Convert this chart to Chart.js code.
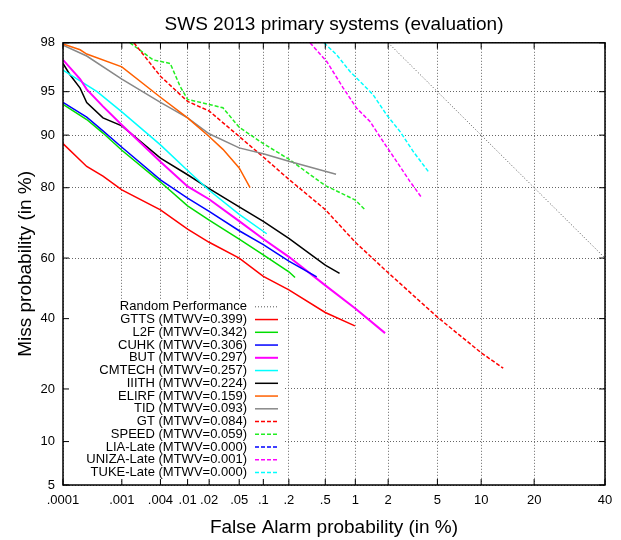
<!DOCTYPE html>
<html>
<head>
    <title>SWS 2013 DET</title>
    <script src="https://cdn.jsdelivr.net/npm/chart.js"></script>
    <style>
        body { margin: 0; background: #fff; }
        #wrap { width: 621px; height: 540px; }
    </style>
</head>
<body>
<div id="wrap"><canvas id="detChart"></canvas></div>
<script>
// axis ticks (percent)
const xTickVals = [0.0001, 0.001, 0.004, 0.01, 0.02, 0.05, 0.1, 0.2, 0.5, 1, 2, 5, 10, 20, 40];
const xTickLabels = ['.0001', '.001', '.004', '.01', '.02', '.05', '.1', '.2', '.5', '1', '2', '5', '10', '20', '40'];
const yTickVals = [5, 10, 20, 40, 60, 80, 90, 95, 98];
const yTickLabels = ['5', '10', '20', '40', '60', '80', '90', '95', '98'];

// false alarm % / miss % per system
const randomFa = [2, 40];
const randomMiss = [98, 60];
const gttsFa = [0.0001, 0.00026, 0.00049, 0.001, 0.004, 0.01, 0.02, 0.05, 0.1, 0.2, 0.5, 0.99];
const gttsMiss = [88.7, 84.6, 82.6, 79.5, 74.4, 69, 65, 60, 54, 49.5, 42, 37.7];
const l2fFa = [0.0001, 0.00026, 0.00049, 0.001, 0.004, 0.01, 0.02, 0.05, 0.1, 0.2, 0.235];
const l2fMiss = [93.8, 92.1, 90.3, 87.6, 81.3, 75.5, 71.6, 66, 61, 55.5, 53.6];
const cuhkFa = [0.0001, 0.00026, 0.00049, 0.001, 0.004, 0.01, 0.02, 0.05, 0.1, 0.2, 0.406];
const cuhkMiss = [94.0, 92.4, 90.6, 88.1, 81.8, 77.5, 74.0, 68.5, 64.3, 59, 53.8];
const butFa = [0.0001, 0.0002, 0.00026, 0.00049, 0.001, 0.004, 0.01, 0.02, 0.05, 0.1, 0.2, 0.5, 1, 1.88];
const butMiss = [97.2, 96.0, 95.2, 93.6, 91.4, 85.5, 80.3, 77.2, 71.3, 66, 60.4, 51, 43.3, 35.4];
const cmtechFa = [0.0001, 0.00039, 0.001, 0.004, 0.01, 0.02, 0.05, 0.11];
const cmtechMiss = [96.6, 95.0, 93.0, 88.5, 83.8, 79.4, 73.2, 67.6];
const iiithFa = [0.0001, 0.000133, 0.0002, 0.00026, 0.00049, 0.001, 0.004, 0.01, 0.02, 0.05, 0.1, 0.2, 0.5, 0.70];
const iiithMiss = [97.0, 96.3, 95.3, 94.0, 92.3, 91.3, 86.2, 82.9, 79.8, 75.2, 71.2, 66.2, 57.7, 55.0];
const elirfFa = [0.0001, 0.0002, 0.00026, 0.001, 0.004, 0.01, 0.02, 0.0307, 0.05, 0.0686];
const elirfMiss = [97.95, 97.7, 97.5, 96.8, 94.5, 92.3, 89.8, 87.75, 84.3, 80.0];
const tidFa = [0.0001, 0.00026, 0.001, 0.004, 0.01, 0.02, 0.05, 0.1, 0.2, 0.645];
const tidMiss = [97.9, 97.4, 96.0, 94.0, 92.3, 90.2, 88.0, 87.0, 85.6, 83.0];
const gtFa = [0.00156, 0.004, 0.01, 0.02, 0.05, 0.1, 0.2, 0.5, 1, 2, 5, 10, 13.6];
const gtMiss = [98, 96.2, 94.1, 93.1, 89.8, 86.4, 81.9, 74.5, 65, 55.2, 40.5, 29.5, 25.2];
const speedFa = [0.00135, 0.0031, 0.0056, 0.0078, 0.01, 0.02, 0.0307, 0.05, 0.1, 0.2, 0.5, 1, 1.24];
const speedMiss = [98, 97.2, 97.0, 95.45, 94.3, 93.8, 93.45, 91.1, 88.7, 86.0, 80.5, 77.0, 74.4];
const liaFa = [];
const liaMiss = [];
const unizaFa = [0.344, 0.518, 0.763, 1.03, 1.375, 1.81, 2.37, 3.06, 3.79];
const unizaMiss = [98, 97.11, 95.3, 93.41, 91.85, 89.0, 85.55, 81.4, 77.6];
const tukeFa = [0.485, 0.655, 0.888, 1.11, 1.47, 1.94, 2.53, 3.25, 4.27];
const tukeMiss = [98, 97.46, 96.51, 95.82, 94.72, 92.66, 90.51, 87.37, 83.57];

// inverse normal cdf (Acklam)
function probit(p) {
    const a = [-3.969683028665376e+01, 2.209460984245205e+02, -2.759285104469687e+02, 1.383577518672690e+02, -3.066479806614716e+01, 2.506628277459239e+00];
    const b = [-5.447609879822406e+01, 1.615858368580409e+02, -1.556989798598866e+02, 6.680131188771972e+01, -1.328068155288572e+01];
    const c = [-7.784894002430293e-03, -3.223964580411365e-01, -2.400758277161838e+00, -2.549732539343734e+00, 4.374664141464968e+00, 2.938163982698783e+00];
    const d = [7.784695709041462e-03, 3.224671290700398e-01, 2.445134137142996e+00, 3.754408661907416e+00];
    const plow = 0.02425;
    let q, r;
    if (p < plow) {
        q = Math.sqrt(-2 * Math.log(p));
        return (((((c[0]*q+c[1])*q+c[2])*q+c[3])*q+c[4])*q+c[5]) / ((((d[0]*q+d[1])*q+d[2])*q+d[3])*q+1);
    }
    if (p > 1 - plow) {
        q = Math.sqrt(-2 * Math.log(1 - p));
        return -(((((c[0]*q+c[1])*q+c[2])*q+c[3])*q+c[4])*q+c[5]) / ((((d[0]*q+d[1])*q+d[2])*q+d[3])*q+1);
    }
    q = p - 0.5; r = q * q;
    return (((((a[0]*r+a[1])*r+a[2])*r+a[3])*r+a[4])*r+a[5])*q / (((((b[0]*r+b[1])*r+b[2])*r+b[3])*r+b[4])*r+1);
}

function pts(fa, miss) {
    return fa.map((f, i) => ({ x: probit(f / 100), y: probit(miss[i] / 100) }));
}

function series(label, fa, miss, color, dash, width) {
    return {
        label: label,
        data: pts(fa, miss),
        borderColor: color,
        borderDash: dash,
        borderWidth: width,
        pointRadius: 0,
        fill: false,
        tension: 0
    };
}

const FONT = "'Liberation Sans', Arial, Helvetica, sans-serif";
Chart.defaults.font.family = FONT;
Chart.defaults.font.size = 13;
Chart.defaults.color = '#000';

const DASH = [4, 2];

// inward ticks on all four sides + frame
const framePlugin = {
    id: 'frame',
    beforeDatasetsDraw(chart) {
        // opaque key box (hides grid under the key)
        const { ctx, chartArea: a } = chart;
        ctx.save();
        ctx.fillStyle = '#fff';
        ctx.fillRect(a.left + 1, a.top + 257, 219, a.bottom - a.top - 263);
        ctx.restore();
    },
    afterDatasetsDraw(chart) {
        const { ctx, chartArea: a, scales } = chart;
        ctx.save();
        ctx.strokeStyle = '#000';
        ctx.lineWidth = 1;
        ctx.setLineDash([]);
        ctx.beginPath();
        scales.x.ticks.forEach(t => {
            const px = scales.x.getPixelForValue(t.value);
            ctx.moveTo(px, a.bottom); ctx.lineTo(px, a.bottom - 6);
            ctx.moveTo(px, a.top); ctx.lineTo(px, a.top + 6);
        });
        scales.y.ticks.forEach(t => {
            const py = scales.y.getPixelForValue(t.value);
            ctx.moveTo(a.left, py); ctx.lineTo(a.left + 6, py);
            ctx.moveTo(a.right, py); ctx.lineTo(a.right - 6, py);
        });
        ctx.stroke();
        ctx.lineWidth = 1.5;
        ctx.strokeRect(a.left, a.top, a.right - a.left, a.bottom - a.top);
        ctx.restore();
    }
};

// gnuplot style key: text right aligned, sample line after it
const keyPlugin = {
    id: 'detKey',
    afterDraw(chart) {
        const { ctx, chartArea: a } = chart;
        ctx.save();
        ctx.font = '13px ' + FONT;
        ctx.textAlign = 'right';
        ctx.textBaseline = 'middle';
        ctx.fillStyle = '#000';
        chart.data.datasets.forEach((ds, i) => {
            const y = a.top + 264 + i * 12.75;
            ctx.fillText(ds.label, a.left + 184, y);
            ctx.strokeStyle = ds.borderColor;
            ctx.lineWidth = ds.borderWidth;
            ctx.setLineDash(ds.borderDash || []);
            ctx.beginPath();
            ctx.moveTo(a.left + 192, y);
            ctx.lineTo(a.left + 215, y);
            ctx.stroke();
        });
        ctx.restore();
    }
};

const gridOpts = {
    color: '#666',
    lineWidth: 1,
    drawTicks: false
};
const borderOpts = { display: false, dash: [1, 2] };

new Chart(document.getElementById('detChart'), {
    type: 'line',
    data: {
        datasets: [
            series('Random Performance', randomFa, randomMiss, '#555555', [1, 2], 1),
            series('GTTS (MTWV=0.399)', gttsFa, gttsMiss, '#ff0000', [], 1.5),
            series('L2F (MTWV=0.342)', l2fFa, l2fMiss, '#00dd00', [], 1.5),
            series('CUHK (MTWV=0.306)', cuhkFa, cuhkMiss, '#0000ff', [], 1.5),
            series('BUT (MTWV=0.297)', butFa, butMiss, '#ff00ff', [], 2),
            series('CMTECH (MTWV=0.257)', cmtechFa, cmtechMiss, '#00ffff', [], 1.5),
            series('IIITH (MTWV=0.224)', iiithFa, iiithMiss, '#000000', [], 1.5),
            series('ELIRF (MTWV=0.159)', elirfFa, elirfMiss, '#ff6000', [], 1.5),
            series('TID (MTWV=0.093)', tidFa, tidMiss, '#888888', [], 1.5),
            series('GT (MTWV=0.084)', gtFa, gtMiss, '#ff0000', DASH, 1.5),
            series('SPEED (MTWV=0.059)', speedFa, speedMiss, '#22ee22', DASH, 1.5),
            series('LIA-Late (MTWV=0.000)', liaFa, liaMiss, '#0000ff', DASH, 1.5),
            series('UNIZA-Late (MTWV=0.001)', unizaFa, unizaMiss, '#ff00ff', DASH, 1.5),
            series('TUKE-Late (MTWV=0.000)', tukeFa, tukeMiss, '#00ffff', DASH, 1.5)
        ]
    },
    options: {
        responsive: true,
        maintainAspectRatio: false,
        animation: false,
        layout: { padding: { top: 0, right: 16, bottom: 0, left: 0 } },
        plugins: {
            legend: { display: false },
            tooltip: { enabled: false },
            title: {
                display: true,
                text: 'SWS 2013 primary systems (evaluation)',
                fullSize: false,
                font: { size: 19, weight: 'normal', family: FONT },
                color: '#000',
                padding: { top: 13, bottom: 7 }
            }
        },
        scales: {
            x: {
                type: 'linear',
                min: probit(xTickVals[0] / 100),
                max: probit(xTickVals[xTickVals.length - 1] / 100),
                afterBuildTicks: s => { s.ticks = xTickVals.map(v => ({ value: probit(v / 100) })); },
                afterFit: s => { s.height = 55; },
                ticks: {
                    autoSkip: false,
                    maxRotation: 0,
                    padding: 8,
                    callback: (v, i) => xTickLabels[i]
                },
                grid: gridOpts,
                border: borderOpts,
                title: {
                    display: true,
                    text: 'False Alarm probability (in %)',
                    font: { size: 19, family: FONT },
                    padding: { top: 0, bottom: 1 }
                }
            },
            y: {
                type: 'linear',
                min: probit(yTickVals[0] / 100),
                max: probit(yTickVals[yTickVals.length - 1] / 100),
                afterBuildTicks: s => { s.ticks = yTickVals.map(v => ({ value: probit(v / 100) })); },
                afterFit: s => { s.width = 63; },
                ticks: {
                    autoSkip: false,
                    padding: 8,
                    callback: (v, i) => yTickLabels[i]
                },
                grid: gridOpts,
                border: borderOpts,
                title: {
                    display: true,
                    text: 'Miss probability (in %)',
                    font: { size: 19, family: FONT },
                    padding: { top: 14, bottom: 0 }
                }
            }
        }
    },
    plugins: [framePlugin, keyPlugin]
});
</script>
</body>
</html>
